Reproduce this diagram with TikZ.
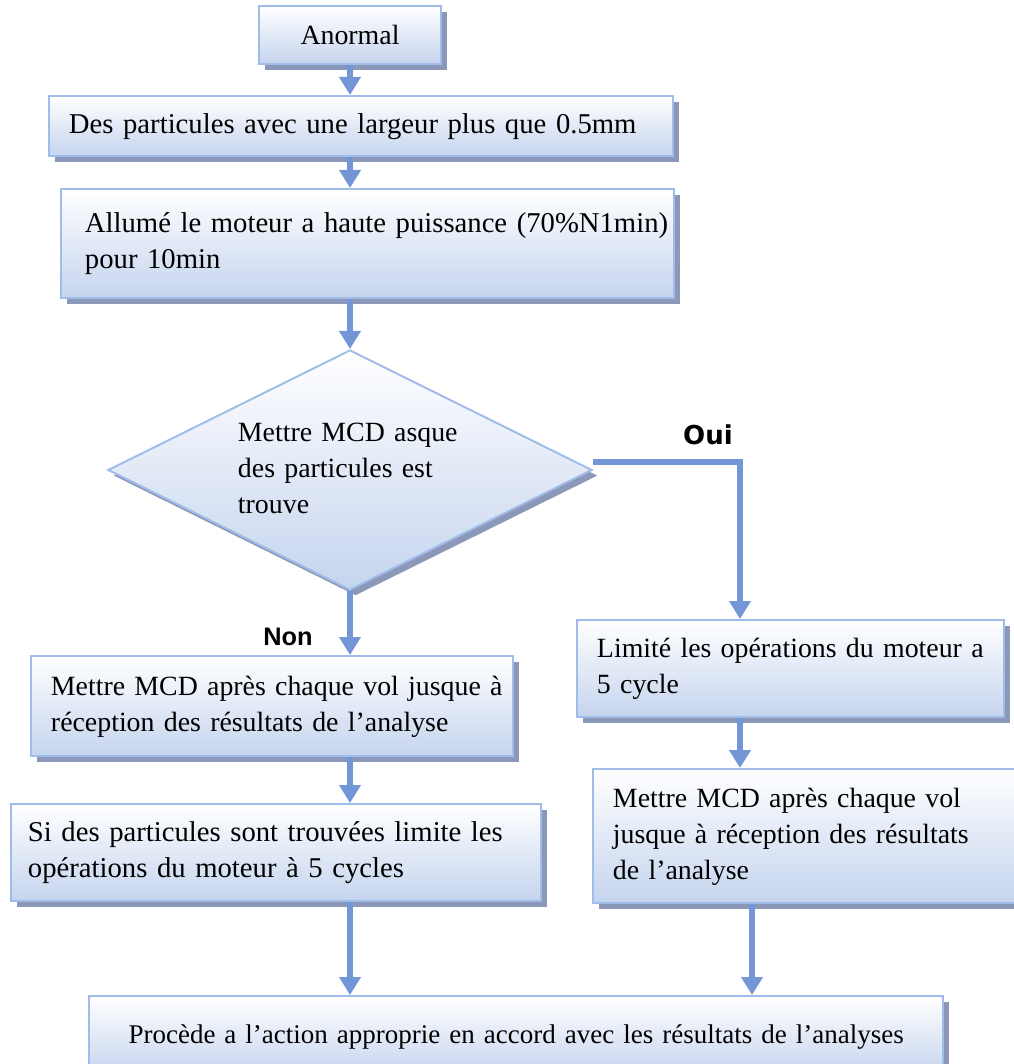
\documentclass[tikz,border=0pt]{standalone}
\usepackage{fontspec}
\setmainfont{Liberation Serif}
\newfontfamily\ouifont{DejaVu Sans}
\newfontfamily\nonfont{Liberation Sans}
\usepackage{tikz}
\usetikzlibrary{arrows.meta,calc,shapes.geometric,shadows}
\definecolor{boxline}{RGB}{160,188,232}
\definecolor{boxfill}{RGB}{197,212,238}
\definecolor{boxshade}{RGB}{140,152,185}
\definecolor{flow}{RGB}{115,150,215}
% lines kept as set, no re-breaking inside the boxes
\newcommand{\rows}[1]{\begin{tabular}{@{}l@{}}#1\end{tabular}}
\newcommand{\largertext}{\fontsize{20.4}{25.6}\selectfont}

\begin{document}
\begin{tikzpicture}[x=0.025cm,y=-0.025cm,>={Triangle[width=0.52cm,length=0.45cm]},
                    font=\fontsize{19.8}{25.6}\selectfont]
  \tikzstyle{box}=[rectangle,draw=boxline,line width=1.4pt,top color=white,bottom color=boxfill,
                   drop shadow={shadow xshift=0.14cm,shadow yshift=-0.14cm,fill=boxshade,opacity=1},
                   anchor=north west,align=left,inner xsep=0.5cm,inner ysep=0pt]
  \tikzstyle{decision}=[diamond,aspect=2,draw=boxline,line width=1.4pt,top color=white,bottom color=boxfill,
                   drop shadow={shadow xshift=0.14cm,shadow yshift=-0.14cm,fill=boxshade,opacity=1},
                   inner sep=0pt,text width=5.6cm,align=left]
  \tikzstyle{flowline}=[->,color=flow,line width=0.15cm,line join=miter]

  \useasboundingbox (0,0) rectangle (1013,1064);

  \node[box,minimum width=4.55cm,minimum height=1.45cm,text width=3.55cm,align=center] (0) at (258,5) {Anormal};
  \node[box,font=\largertext,minimum width=15.6cm,minimum height=1.5cm,text width=14.6cm] (1) at (48,95)
    {\rows{Des particules avec une largeur plus que 0.5mm}};
  \node[box,font=\largertext,minimum width=15.325cm,minimum height=2.725cm,inner xsep=0.6cm,text width=14.125cm] (2) at (60,188)
    {\rows{Allumé le moteur a haute puissance (70\%N1min)\\ pour 10min}};
  \node[decision,minimum width=12.1cm,minimum height=6cm] (3) at (350,470)
    {\rows{Mettre MCD asque\\ des particules est\\ trouve}};
  \node[box,minimum width=12.05cm,minimum height=2.5cm,text width=11.05cm] (4) at (30,655)
    {\rows{Mettre MCD après chaque vol jusque à\\ réception des résultats de l’analyse}};
  \node[box,font=\largertext,minimum width=13.25cm,minimum height=2.425cm,inner xsep=0.425cm,text width=12.4cm] (5) at (10,803)
    {\rows{Si des particules sont trouvées limite les\\ opérations du moteur à 5 cycles}};
  \node[box,minimum width=10.675cm,minimum height=2.425cm,text width=9.675cm] (6) at (576,619)
    {\rows{Limité les opérations du moteur a\\ 5 cycle}};
  \node[box,minimum width=10.75cm,minimum height=3.35cm,text width=9.75cm] (7) at (592,768)
    {\rows{Mettre MCD après chaque vol\\ jusque à réception des résultats\\ de l’analyse}};
  \node[box,font=\fontsize{19.2}{25.6}\selectfont,minimum width=21.35cm,minimum height=2cm,text width=20.35cm,align=center] (8) at (88,995)
    {\rows{Procède a l’action approprie en accord avec les résultats de l’analyses}};

  \node[font=\ouifont\bfseries\fontsize{18.5}{20}\selectfont] (oui) at (708,435) {Oui};
  \node[font=\nonfont\bfseries\fontsize{18}{20}\selectfont] (non) at (288,637) {Non};

  \coordinate (t) at (740,462);
  \coordinate (u) at (752,462);

  \path[flowline] (0.south) edge (0.south |- 1.north)
    (1.south -| 0.south) edge (2.north -| 0.south)
    (2.south -| 3.north) edge (3.north)
    (3.south) edge (3.south |- 4.north)
    (4.south -| 3.south) edge (5.north -| 3.south)
    (5.south -| 3.south) edge (8.north -| 3.south)
    (6.south -| t) edge (7.north -| t)
    (7.south -| u) edge (8.north -| u);
  \draw[flowline] (3.east |- t) -- (t) -- (t |- 6.north);

\end{tikzpicture}
\end{document}
